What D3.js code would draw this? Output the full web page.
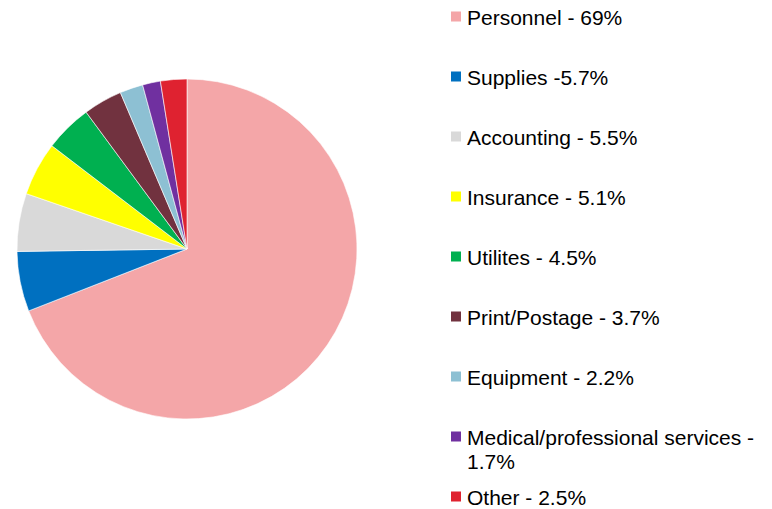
<!DOCTYPE html>
<html><head><meta charset="utf-8">
<script src="https://cdn.jsdelivr.net/npm/d3@7"></script>
<style>body{margin:0;background:#fff}svg{display:block}</style>
</head><body>
<script>
const categories = ["Personnel","Supplies","Accounting","Insurance","Utilites","Print/Postage","Equipment","Medical/professional services","Other"];
const values = [69,5.7,5.5,5.1,4.5,3.7,2.2,1.7,2.5];
const labels = [["Personnel - 69%"],["Supplies -5.7%"],["Accounting - 5.5%"],["Insurance - 5.1%"],["Utilites - 4.5%"],["Print/Postage - 3.7%"],["Equipment - 2.2%"],["Medical/professional services -","1.7%"],["Other - 2.5%"]];
const colors = ["#F4A6A8","#0070C0","#D9D9D9","#FFFF00","#00B050","#71323F","#8DC0D3","#7030A0","#DF2230"];

const W=772,H=509;
const svg=d3.select("body").append("svg").attr("width",W).attr("height",H);
const cx=187,cy=249,r=170;
const pie=d3.pie().sort(null).value(d=>d)(values);
const arc=d3.arc().innerRadius(0).outerRadius(r);
svg.append("g").attr("transform",`translate(${cx},${cy})`)
  .selectAll("path").data(pie).join("path")
  .attr("d",arc).attr("fill",(d,i)=>colors[i])
  .attr("stroke","#fff").attr("stroke-width",0.6);

const legY=d3.scalePoint().domain(d3.range(categories.length)).range([17,497]);
const lg=svg.append("g");
const rows=lg.selectAll("g").data(categories).join("g");
rows.append("rect").attr("x",451).attr("y",(d,i)=>legY(i)-5.5).attr("width",10).attr("height",10).attr("fill",(d,i)=>colors[i]);
rows.append("text").attr("x",467).attr("y",(d,i)=>legY(i)+8)
  .attr("font-family","Liberation Sans, Arial, sans-serif").attr("font-size",21).attr("fill","#000")
  .each(function(d,i){
    const t=d3.select(this);
    labels[i].forEach((s,j)=>t.append("tspan").attr("x",467).attr("dy",j?24:0).text(s));
  });
</script>
</body></html>
